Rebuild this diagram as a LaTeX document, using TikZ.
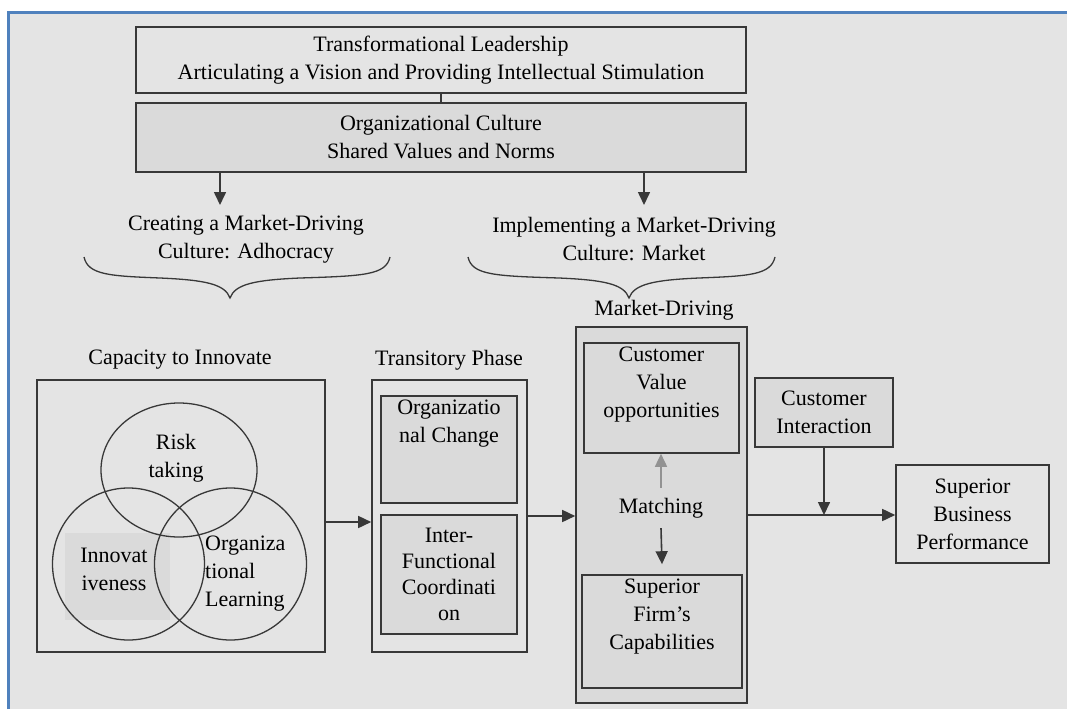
\documentclass[tikz,border=0pt]{standalone}
\usepackage{fontspec}
\setmainfont{Liberation Serif}
\usetikzlibrary{arrows.meta}
\definecolor{bgGray}{HTML}{E4E4E4}
\definecolor{dotGray}{HTML}{DADADA}
\definecolor{lineGray}{HTML}{383838}
\definecolor{frameBlue}{HTML}{4F81BD}
\tikzset{
    txt/.style={align=center, inner sep=2pt, font=\fontsize{22}{28}\selectfont},
    box/.style={txt, draw=lineGray, line width=1.6pt, inner sep=0pt},
    dotbox/.style={box, fill=dotGray},
    line/.style={draw=lineGray, line width=1.6pt},
    arr/.style={line, -{Triangle[length=13pt,width=12pt]}}
}
\begin{document}
\begin{tikzpicture}[x=1pt,y=-1pt]
    \useasboundingbox (0,0) rectangle (1067,709);
    %draw background and frame
    \fill[white] (0,0) rectangle (1067,709);
    \fill[bgGray] (8,13) rectangle (1067,709);
    \draw[frameBlue, line width=3pt] (8,709) -- (8,13) -- (1067,13);
    %draw leadership and culture
    \node[box, minimum width=610, minimum height=66] (lead) at (441,60)
        {Transformational Leadership\\Articulating a Vision and Providing Intellectual Stimulation};
    \node[dotbox, minimum width=610, minimum height=69] (cult) at (441,137.5)
        {Organizational Culture\\Shared Values and Norms};
    \draw[line] (lead) -- (cult);
    \coordinate (createtop) at (220,205);
    \coordinate (impltop) at (644,205);
    \draw[arr] (cult.south -| createtop) -- (createtop);
    \draw[arr] (cult.south -| impltop) -- (impltop);
    \node[txt] (create) at (246,239) {Creating a Market-Driving\\Culture: Adhocracy};
    \node[txt] (impl) at (634,239) {Implementing a Market-Driving\\Culture: Market};
    %draw braces
    \foreach \l/\m/\r in {84/230/390, 468/629/775}
        {%
            \draw[line, line width=1.3pt] (\l,257) .. controls (\l+4,275) and (\l+26,276) .. (\m-70,278)
                .. controls (\m-25,280) and (\m-5,284) .. (\m,298)
                .. controls (\m+5,284) and (\m+25,280) .. (\m+70,278)
                .. controls (\r-26,276) and (\r-4,275) .. (\r,257);
        }
    %draw capacity to innovate
    \node[txt] (captitle) at (180,360) {Capacity to Innovate};
    \node[box, minimum width=288, minimum height=272] (cap) at (181,516) {};
    \fill[dotGray] (65,533) rectangle (170,620);
    \draw[line, line width=1.3pt] (179,470) ellipse [x radius=78, y radius=67];
    \draw[line, line width=1.3pt] (128.5,564) circle [radius=76];
    \draw[line, line width=1.3pt] (230.5,564) circle [radius=76];
    \node[txt] (risk) at (176,458) {Risk\\taking};
    \node[txt] (innov) at (114,569) {Innovat\\iveness};
    \node[txt, align=left, anchor=west] (learn) at (203,574) {Organiza\\tional\\Learning};
    %draw transitory phase
    \node[txt] (transtitle) at (449,360) {Transitory Phase};
    \node[box, minimum width=155, minimum height=272] (trans) at (449.5,516) {};
    \node[dotbox, minimum width=136, minimum height=107] (change) at (449,449.5) {};
    \node[txt, anchor=north] (changetxt) at ([yshift=-3pt]change.north) {Organizatio\\nal Change};
    \node[dotbox, minimum width=136, minimum height=119, font=\fontsize{22}{26}\selectfont] (coord) at (449,574.5)
        {Inter-\\Functional\\Coordinati\\on};
    %draw market-driving
    \node[txt] (mdtitle) at (664,310) {Market-Driving};
    \node[dotbox, minimum width=171, minimum height=376] (md) at (661.5,515) {};
    \node[dotbox, minimum width=155, minimum height=110] (value) at (661.5,398) {};
    \node[txt, anchor=north] (valuetxt) at ([yshift=-3pt]value.north) {Customer\\Value\\opportunities};
    \node[dotbox, minimum width=160, minimum height=113] (capab) at (662,631.5) {};
    \node[txt, anchor=north] (capabtxt) at ([yshift=-3pt]capab.north) {Superior\\Firm's\\Capabilities};
    \node[txt, inner sep=10pt] (match) at (661,508) {Matching};
    \draw[arr, draw=lineGray!55] (match.north) -- (match.north |- value.south);
    \draw[arr] (match.south) -- ([yshift=10pt]capab.north);
    %draw customer interaction and performance
    \node[dotbox, minimum width=138, minimum height=69] (inter) at (824,412.5) {Customer\\Interaction};
    \node[box, minimum width=153, minimum height=98] (perf) at (972.5,514) {Superior\\Business\\Performance};
    %draw flow arrows
    \draw[arr] ([yshift=-6pt]cap.east) -- ([yshift=-6pt]cap.east -| trans.west);
    \draw[arr] (trans.east) -- (trans.east -| md.west);
    \draw[arr] (md.east) -- (md.east -| perf.west);
    \draw[arr] (inter.south) -- (inter.south |- md.east);
\end{tikzpicture}
\end{document}
